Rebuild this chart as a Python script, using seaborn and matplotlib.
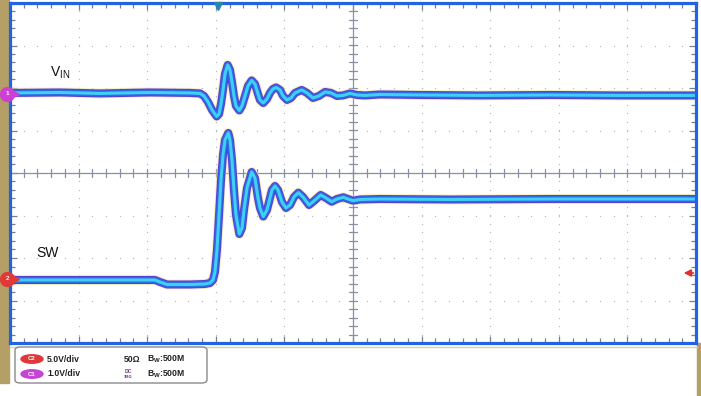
import numpy as np
import pandas as pd
import matplotlib
matplotlib.use("Agg")
import matplotlib.pyplot as plt
import seaborn as sns
from matplotlib.patches import Rectangle, FancyBboxPatch, Ellipse

# ---------------- data (read from the scope screen) ----------------
# time in divisions (10 div across), VIN in volts (1 V/div, AC deviation from its marker),
# SW in volts (5 V/div, relative to its ground marker)
vin_t = [0.00, 0.729, 1.312, 2.041, 2.624, 2.770, 2.828, 2.886, 2.945, 3.013, 3.047, 3.076,
         3.105, 3.134, 3.173, 3.207, 3.236, 3.265, 3.294, 3.343, 3.382, 3.426, 3.469, 3.523,
         3.571, 3.615, 3.644, 3.692, 3.746, 3.790, 3.834, 3.878, 3.936, 3.980, 4.038, 4.096,
         4.155, 4.252, 4.329, 4.417, 4.504, 4.592, 4.679, 4.767, 4.854, 4.956, 5.058, 5.175,
         5.394, 5.977, 6.851, 7.872, 8.892, 10.0]
vin_v = [0.024, 0.035, 0.012, 0.035, 0.024, 0.012, -0.047, -0.188, -0.376, -0.529, -0.471, -0.235,
         0.094, 0.471, 0.682, 0.565, 0.282, -0.047, -0.282, -0.388, -0.282, -0.047, 0.188, 0.318,
         0.235, 0.0, -0.141, -0.212, -0.118, 0.024, 0.118, 0.153, 0.094, -0.047, -0.141, -0.094,
         0.024, 0.094, 0.024, -0.094, -0.047, 0.047, 0.024, -0.047, -0.035, 0.012, -0.024, -0.035,
         -0.012, -0.024, -0.035, -0.024, -0.035, -0.035]

sw_t = [0.0, 1.312, 2.114, 2.187, 2.289, 2.624, 2.843, 2.915, 2.959, 2.988, 3.017, 3.047,
        3.076, 3.105, 3.134, 3.182, 3.207, 3.236, 3.265, 3.294, 3.343, 3.382, 3.411, 3.455,
        3.523, 3.571, 3.615, 3.644, 3.692, 3.746, 3.790, 3.819, 3.863, 3.907, 3.965, 4.023,
        4.082, 4.140, 4.203, 4.271, 4.359, 4.431, 4.529, 4.606, 4.689, 4.767, 4.859, 4.927,
        5.0, 5.102, 5.394, 6.414, 7.872, 10.0]
sw_v = [-0.118, -0.118, -0.118, -0.353, -0.647, -0.647, -0.588, -0.471, -0.118, 0.824, 3.412, 7.529,
        11.647, 14.588, 16.353, 17.176, 16.353, 14.0, 10.471, 7.529, 5.294, 6.0, 8.118, 10.706,
        12.588, 11.882, 9.529, 8.353, 7.353, 8.118, 9.529, 10.471, 10.941, 10.471, 9.059, 8.353,
        8.706, 9.647, 10.153, 9.647, 8.706, 9.176, 9.882, 9.529, 9.094, 9.412, 9.612, 9.412,
        9.212, 9.353, 9.412, 9.353, 9.412, 9.412]

vin_scale, vin_offset = 1.0, 1.86     # V/div, marker position (div)
sw_scale, sw_offset = 5.0, -2.494
trig_t = 3.03
trig_level = -2.353

legend_rows = [("C2", "5.0V/div", "50Ω", "B$_\\mathregular{W}$:500M", "#e0383a"),
               ("C1", "1.0V/div", "DC", "B$_\\mathregular{W}$:500M", "#c444d4")]

# ---------------- figure ----------------
sns.set_style("white")
plt.rcParams["font.family"] = ["Liberation Sans", "DejaVu Sans"]
plt.rcParams["mathtext.default"] = "regular"

W, H = 701, 396
fig = plt.figure(figsize=(W / 100, H / 100), dpi=100)
fig.patch.set_facecolor("white")

def fx(x):
    return x / W

def fy(y):
    return 1 - y / H

ax = fig.add_axes([fx(10), fy(343), (696 - 10) / W, 340 / H])
ax.set_xlim(0, 10)
ax.set_ylim(-4, 4)
ax.set_facecolor("white")

# graticule dots
grid_c = "#b4bcc4"
minor = np.arange(0, 10.001, 0.2)
minor_y = np.arange(-4, 4.001, 0.2)
for gx in range(1, 10):
    if gx == 5:
        continue
    ax.plot(np.full_like(minor_y, gx), minor_y, ls="none", marker="o", ms=1.0,
            color=grid_c, mew=0, zorder=1)
for gy in range(-3, 4):
    if gy == 0:
        continue
    ax.plot(minor, np.full_like(minor, gy), ls="none", marker="o", ms=1.0,
            color=grid_c, mew=0, zorder=1)

# centre cross with ticks
cc = "#8391a5"
ax.axvline(5, color=cc, lw=0.9, zorder=1)
ax.axhline(0, color=cc, lw=0.9, zorder=1)
for yy in minor_y:
    ax.plot([5 - 0.055, 5 + 0.055], [yy, yy], color=cc, lw=0.9, zorder=1)
for xx in minor:
    ax.plot([xx, xx], [-0.09, 0.09], color=cc, lw=0.9, zorder=1)

# border ticks
ax.set_xticks(np.arange(0, 10.01, 1))
ax.set_yticks(np.arange(-4, 4.01, 1))
ax.set_xticks(minor, minor=True)
ax.set_yticks(minor_y, minor=True)
ax.tick_params(which="both", direction="in", top=True, right=True, bottom=True, left=True,
               labelbottom=False, labelleft=False, color="#75808f", width=0.9)
ax.tick_params(which="major", length=5)
ax.tick_params(which="minor", length=3.5)
for s in ax.spines.values():
    s.set_color("#2163e3")
    s.set_linewidth(2.3)
    s.set_zorder(6)

# traces
df_vin = pd.DataFrame({"t": vin_t, "y": vin_offset + np.array(vin_v) / vin_scale})
df_sw = pd.DataFrame({"t": sw_t, "y": sw_offset + np.array(sw_v) / sw_scale})
layers = [("#f2e6a6", 7.2, 0.7), ("#5a3fd2", 5.8, 1.0), ("#2d6ae6", 4.3, 1.0), ("#3fd0f5", 2.2, 1.0)]
for df in (df_vin, df_sw):
    for col, lw, al in layers:
        sns.lineplot(data=df, x="t", y="y", ax=ax, color=col, lw=lw, alpha=al,
                     estimator=None, sort=False, zorder=3, solid_capstyle="butt",
                     solid_joinstyle="round")
ax.set_xlabel("")
ax.set_ylabel("")

# labels
ax.text(0.583, 2.28, "V$_{\\mathregular{IN}}$", fontsize=10, color="#111111", zorder=5)
ax.text(0.379, -1.976, "SW", fontsize=10, color="#111111", zorder=5)

# channel markers on the left
for off, col, lab in ((vin_offset, "#cf3fd6", "1"), (sw_offset, "#e03a36", "2")):
    ax.plot([-0.04], [off], marker="o", ms=10, color=col, mec=col, clip_on=False, zorder=7)
    ax.plot([0.07], [off], marker=">", ms=5.5, color=col, mec=col, clip_on=False, zorder=7)
    ax.text(-0.04, off, lab, fontsize=4.5, color="white", ha="center", va="center",
            zorder=8, clip_on=False, fontweight="bold")

# trigger markers
ax.plot([trig_t], [3.93], marker="v", ms=6, color="#2a86ad", clip_on=False, zorder=8)
ax.annotate("", xy=(9.78, trig_level), xytext=(10.0, trig_level),
            arrowprops=dict(arrowstyle="-|>", color="#e0302a", lw=1.3, mutation_scale=10),
            zorder=8, annotation_clip=False)

# side strips
tan = "#b49f66"
fig.add_artist(Rectangle((0, fy(383)), fx(9), 383 / H, transform=fig.transFigure,
                         color=tan, zorder=0))
fig.add_artist(Rectangle((fx(697), 0), fx(4), fy(343), transform=fig.transFigure,
                         color=tan, zorder=0))
fig.add_artist(plt.Line2D([fx(10), fx(697)], [fy(346.5), fy(346.5)], transform=fig.transFigure,
                          color="#ddd0a6", lw=1, zorder=0))

# legend box
fig.add_artist(FancyBboxPatch((fx(15), fy(383)), fx(192), 36 / H,
                              boxstyle="round,pad=0,rounding_size=0.008",
                              transform=fig.transFigure, fc="white", ec="#8a8a8a", lw=1.0))
for i, (ch, vdiv, cpl, bw, col) in enumerate(legend_rows):
    yc = 359 + 15 * i
    fig.add_artist(Ellipse((fx(32), fy(yc)), fx(22), 8.5 / H, transform=fig.transFigure,
                           fc=col, ec=col, zorder=3))
    fig.text(fx(32), fy(yc), ch, fontsize=4.3, color="white", ha="center", va="center",
             fontweight="bold", zorder=4)
    fig.text(fx(47), fy(yc), vdiv, fontsize=6.2, fontweight="bold", va="center", color="#222222")
    if cpl == "DC":
        fig.text(fx(128), fy(yc - 2.5), "DC", fontsize=3.6, fontweight="bold", ha="center",
                 va="center", color="#6a3a8a")
        fig.text(fx(128), fy(yc + 2.5), "1MΩ", fontsize=2.8, fontweight="bold", ha="center",
                 va="center", color="#6a3a8a")
    else:
        fig.text(fx(124), fy(yc), cpl, fontsize=6.2, fontweight="bold", va="center", color="#222222")
    fig.text(fx(147), fy(yc), bw, fontsize=6.2, fontweight="bold", va="center", color="#222222")

fig.savefig("out.png", dpi=100)
